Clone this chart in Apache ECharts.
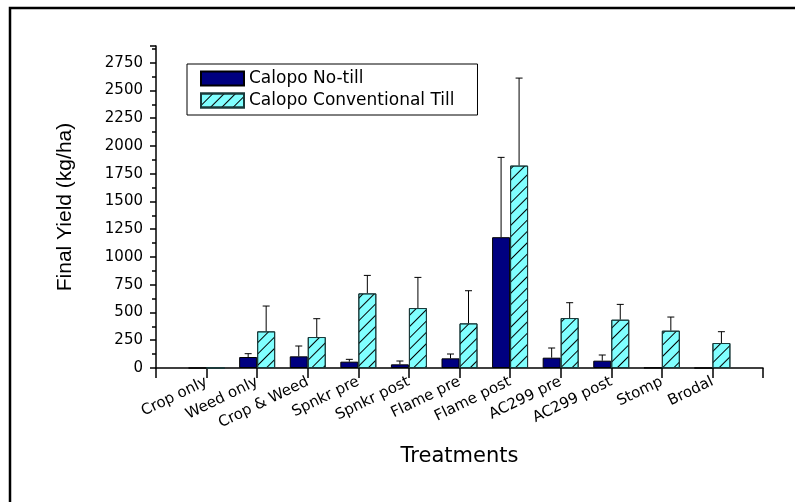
<!DOCTYPE html>
<html><head><meta charset="utf-8">
<script src="https://cdn.jsdelivr.net/npm/echarts@6/dist/echarts.min.js"></script>
<style>html,body{margin:0;padding:0;background:#fff}#c{width:795px;height:502px}</style>
</head><body><div id="c"></div>
<script>
const categories = ['Crop only','Weed only','Crop & Weed','Spnkr pre','Spnkr post','Flame pre','Flame post','AC299 pre','AC299 post','Stomp','Brodal'];
const noTill      = [0, 99, 105, 57, 33, 87, 1178, 93, 66, 2, 0];
const noTillErr   = [null, 129, 198, 78, 63, 126, 1897, 180, 117, null, null];
const convTill    = [0, 330, 279, 672, 540, 402, 1823, 450, 435, 336, 225];
const convTillErr = [null, 558, 444, 834, 816, 696, 2611, 588, 573, 459, 327];
const yTicks = {min: 0, max: 2900, interval: 250};

const axisCats = [''].concat(categories).concat(['']);
const pad = a => [null].concat(a).concat([null]);
const FONT = '"Liberation Sans", Arial, sans-serif';
const WIDE = '"DejaVu Sans", sans-serif';

function errSeries(vals, tops, offset) {
  const data = [];
  tops.forEach((t, i) => { if (t != null) data.push([i + 1, vals[i], t]); });
  return {
    type: 'custom', z: 1,
    data: data,
    renderItem: function (params, api) {
      const b = api.coord([api.value(0), api.value(1)]);
      const t = api.coord([api.value(0), api.value(2)]);
      const x = b[0] + offset;
      return { type: 'group', children: [
        { type: 'line', shape: {x1: x, y1: b[1], x2: x, y2: t[1]}, style: {stroke: '#000', lineWidth: 1} },
        { type: 'line', shape: {x1: x - 3.5, y1: t[1], x2: x + 3.5, y2: t[1]}, style: {stroke: '#000', lineWidth: 1} }
      ]};
    }
  };
}

const chart = echarts.init(document.getElementById('c'), null, {renderer: 'canvas'});
chart.setOption({
  animation: false,
  backgroundColor: '#fff',
  textStyle: {fontFamily: FONT},
  grid: {left: 156, right: 32, top: 46, bottom: 134, containLabel: false},
  legend: {
    orient: 'vertical', left: 187, top: 64,
    itemWidth: 43, itemHeight: 14, itemGap: 5,
    padding: [6, 23, 6, 13],
    borderColor: '#000', borderWidth: 1,
    textStyle: {fontSize: 17, color: '#000', fontFamily: WIDE},
    data: [
      {name: 'Calopo No-till', icon: 'rect'},
      {name: 'Calopo Conventional Till', icon: 'rect'}
    ]
  },
  xAxis: {
    type: 'category', data: axisCats, boundaryGap: false,
    name: 'Treatments', nameLocation: 'middle', nameGap: 78,
    nameTextStyle: {fontSize: 21, color: '#000', fontFamily: WIDE},
    axisLine: {lineStyle: {color: '#000', width: 1.5}},
    axisTick: {length: 10, lineStyle: {color: '#000', width: 1.5}, interval: 0},
    axisLabel: {interval: 0, rotate: 26, fontSize: 15, color: '#000', margin: 13, fontFamily: WIDE},
    splitLine: {show: false}
  },
  yAxis: {
    type: 'value', min: yTicks.min, max: yTicks.max, interval: yTicks.interval,
    name: 'Final Yield (kg/ha)', nameLocation: 'middle', nameGap: 80,
    nameTextStyle: {fontSize: 21, color: '#000', fontFamily: FONT},
    axisLine: {show: true, lineStyle: {color: '#000', width: 1.5}},
    axisTick: {show: true, length: 6, lineStyle: {color: '#000', width: 1.5}},
    minorTick: {show: true, splitNumber: 2, length: 4, lineStyle: {color: '#000', width: 1.5}},
    axisLabel: {fontSize: 15, color: '#000', margin: 13, showMaxLabel: false, fontFamily: WIDE,
      formatter: v => String(v)},
    splitLine: {show: false}
  },
  graphic: [{
    type: 'rect', shape: {x: 10, y: 8, width: 820, height: 520},
    style: {fill: null, stroke: '#000', lineWidth: 2.5}, silent: true, z: 100
  }],
  series: [
    {
      name: 'Calopo No-till', type: 'bar', data: pad(noTill),
      barWidth: 18, barGap: '0%', z: 2,
      itemStyle: {color: '#000080', borderColor: '#000', borderWidth: 1}
    },
    {
      name: 'Calopo Conventional Till', type: 'bar', data: pad(convTill),
      barWidth: 18, barGap: '0%', z: 2,
      itemStyle: {
        color: '#80FFFF', borderColor: '#1a3a3a', borderWidth: 1,
        decal: {symbol: 'rect', symbolSize: 1, dashArrayX: [1, 0], dashArrayY: [1, 7], rotation: -Math.PI / 4, color: '#000'}
      }
    },
    errSeries(noTill, noTillErr, -9),
    errSeries(convTill, convTillErr, 9)
  ]
});
</script></body></html>
